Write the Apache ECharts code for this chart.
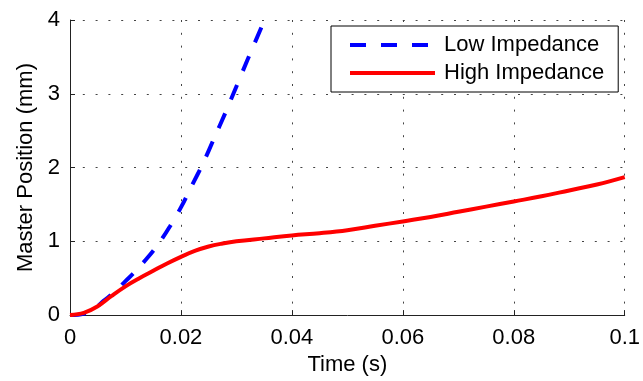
<!DOCTYPE html>
<html><head><meta charset="utf-8">
<script src="https://cdn.jsdelivr.net/npm/echarts@6/dist/echarts.min.js"></script>
<style>html,body{margin:0;padding:0;background:#fff}#c{width:643px;height:381px}</style>
</head><body><div id="c"></div>
<script>
const seriesNames = ['Low Impedance', 'High Impedance'];
const lowTime = [0, 0.002, 0.004, 0.006, 0.008, 0.010, 0.012, 0.014, 0.016, 0.018, 0.020, 0.022, 0.024, 0.026, 0.028, 0.030, 0.032, 0.0345];
const lowPos  = [0, 0.01, 0.06, 0.19, 0.31, 0.46, 0.61, 0.78, 0.97, 1.20, 1.46, 1.76, 2.06, 2.40, 2.74, 3.10, 3.46, 3.90];
const highTime = [0, 0.0025, 0.005, 0.0075, 0.010, 0.0125, 0.015, 0.0175, 0.020, 0.0225, 0.025, 0.0275, 0.030, 0.035, 0.040, 0.045, 0.050, 0.055, 0.060, 0.065, 0.070, 0.075, 0.080, 0.085, 0.090, 0.095, 0.100];
const highPos  = [0, 0.03, 0.12, 0.26, 0.39, 0.50, 0.60, 0.70, 0.79, 0.87, 0.93, 0.97, 1.00, 1.04, 1.08, 1.11, 1.15, 1.21, 1.27, 1.33, 1.40, 1.47, 1.54, 1.61, 1.69, 1.77, 1.87];
const xTickLabels = ['0', '0.02', '0.04', '0.06', '0.08', '0.1'];
const yTickLabels = ['0', '1', '2', '3', '4'];
const xTitle = 'Time (s)';
const yTitle = 'Master Position (mm)';

const FONT = 'Liberation Sans';
const axisCol = '#222';
const gridLine = { show: true, lineStyle: { color: '#444', width: 1, type: [2, 10.8] } };

const chart = echarts.init(document.getElementById('c'), null, { renderer: 'canvas' });
chart.setOption({
  animation: false,
  backgroundColor: '#fff',
  grid: { left: 70, right: 14, top: 20, bottom: 64, containLabel: false },
  legend: {
    data: seriesNames,
    orient: 'vertical',
    left: 331, top: 26,
    padding: [8, 14, 8, 17],
    itemWidth: 85, itemHeight: 22, itemGap: 6,
    backgroundColor: '#fff',
    borderColor: '#000', borderWidth: 1, borderRadius: 0,
    itemStyle: { opacity: 0 },
    lineStyle: { width: 4 },
    textStyle: { fontFamily: FONT, fontSize: 22, color: '#000', padding: [0, 0, 0, 4] }
  },
  xAxis: {
    type: 'value', min: 0, max: 0.1, interval: 0.02,
    name: xTitle, nameLocation: 'middle', nameGap: 29,
    nameTextStyle: { fontFamily: FONT, fontSize: 22, color: '#000' },
    axisLine: { show: true, onZero: false, lineStyle: { color: axisCol, width: 1 } },
    axisTick: { show: true, inside: true, length: 5, lineStyle: { color: axisCol } },
    axisLabel: { margin: 12, fontFamily: FONT, fontSize: 22, color: '#000',
      formatter: (v, i) => xTickLabels[i] },
    splitLine: gridLine
  },
  yAxis: {
    type: 'value', min: 0, max: 4, interval: 1,
    name: yTitle, nameLocation: 'middle', nameGap: 30, nameRotate: 90,
    nameTextStyle: { fontFamily: FONT, fontSize: 22, color: '#000' },
    axisLine: { show: true, onZero: false, lineStyle: { color: axisCol, width: 1 } },
    axisTick: { show: true, inside: true, length: 5, lineStyle: { color: axisCol } },
    axisLabel: { margin: 10, fontFamily: FONT, fontSize: 22, color: '#000',
      formatter: (v, i) => yTickLabels[i] },
    splitLine: gridLine
  },
  series: [
    {
      name: seriesNames[0], type: 'line', smooth: 0.3, symbol: 'none',
      data: lowTime.map((t, i) => [t, lowPos[i]]),
      lineStyle: { color: '#0000ff', width: 4, type: [16, 15], cap: 'butt' },
      itemStyle: { color: '#0000ff' }
    },
    {
      name: seriesNames[1], type: 'line', smooth: 0.4, symbol: 'none',
      data: highTime.map((t, i) => [t, highPos[i]]),
      lineStyle: { color: '#ff0000', width: 4 },
      itemStyle: { color: '#ff0000' }
    }
  ]
});
</script>
</body></html>
